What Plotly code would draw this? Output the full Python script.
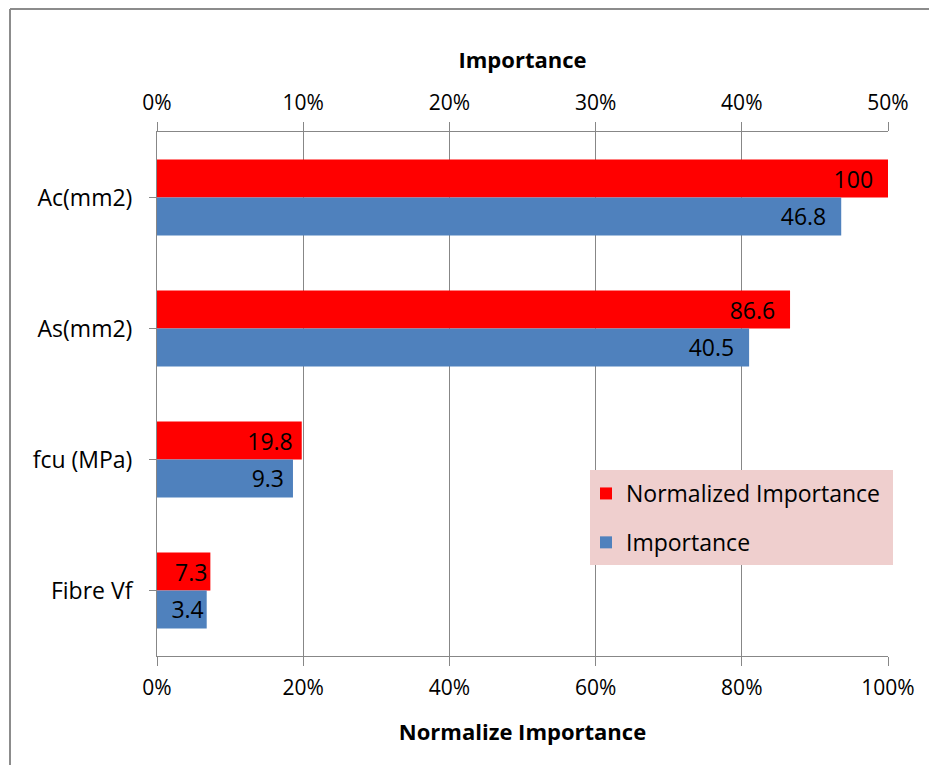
import plotly.graph_objects as go

categories = ["Ac(mm2)", "As(mm2)", "fcu (MPa)", "Fibre Vf"]
normalized_importance = [100, 86.6, 19.8, 7.3]
importance = [46.8, 40.5, 9.3, 3.4]
bottom_ticks = [0, 20, 40, 60, 80, 100]
bottom_labels = ["0%", "20%", "40%", "60%", "80%", "100%"]
top_ticks = [0, 10, 20, 30, 40, 50]
top_labels = ["0%", "10%", "20%", "30%", "40%", "50%"]

FONT = "Open Sans"
GRID = "#878787"

# page body has an 8px margin; figure coordinates are screen minus 8
W, H = 921, 757
L, T, R, B = 149, 124, 880, 648
PW, PH = R - L, B - T

def px(xs):
    return (xs - 8 - L) / PW

def py(ys):
    return (B - (ys - 8)) / PH

def label(v, frac):
    # trailing padding inside the bar end, smaller for short bars
    pad = "\u00a0\u00a0" if frac >= 0.3 else ("\u00a0" if frac >= 0.15 else "")
    return f"{v:g}{pad}"

fig = go.Figure()
fig.add_trace(go.Bar(
    name="Normalized Importance", y=categories, x=normalized_importance,
    orientation="h", xaxis="x", yaxis="y", legendgroup="a",
    marker=dict(color="#FF0000", line=dict(width=0)),
    offset=-0.29, width=0.29,
    text=[label(v, v / 100) for v in normalized_importance], texttemplate="%{text}",
    textposition="inside", insidetextanchor="end",
    textfont=dict(family=FONT, size=23, color="black"),
    hoverinfo="skip",
))
fig.add_trace(go.Bar(
    name="Importance", y=categories, x=importance,
    orientation="h", xaxis="x2", yaxis="y", legendgroup="b",
    marker=dict(color="#4F81BD", line=dict(width=0)),
    offset=0.0, width=0.29,
    text=[label(v, v / 50) for v in importance], texttemplate="%{text}",
    textposition="inside", insidetextanchor="end",
    textfont=dict(family=FONT, size=23, color="black"),
    hoverinfo="skip",
))

fig.update_layout(
    width=W, height=H,
    margin=dict(l=L, r=W - R, t=T, b=H - B),
    paper_bgcolor="white", plot_bgcolor="white",
    font=dict(family=FONT, size=21, color="black"),
    showlegend=True,
    legend=dict(
        x=px(586), y=py(472), xanchor="left", yanchor="top",
        bgcolor="rgba(0,0,0,0)", borderwidth=0,
        font=dict(family=FONT, size=23, color="black"),
        traceorder="grouped", tracegroupgap=16,
    ),
    xaxis=dict(
        range=[0, 100], tickvals=bottom_ticks, ticktext=bottom_labels,
        side="bottom", showgrid=True, gridcolor=GRID, gridwidth=1,
        showline=True, linecolor=GRID, linewidth=1,
        ticks="outside", ticklen=9, tickcolor=GRID, ticklabelstandoff=4,
        zeroline=False, tickfont=dict(size=21),
        title=dict(text="<b>Normalize Importance</b>", font=dict(family=FONT, size=22), standoff=24),
    ),
    xaxis2=dict(
        range=[0, 50], tickvals=top_ticks, ticktext=top_labels,
        side="top", overlaying="x", anchor="y",
        showgrid=False, showline=True, linecolor=GRID, linewidth=1,
        ticks="outside", ticklen=9, tickcolor=GRID, ticklabelstandoff=4,
        zeroline=False, tickfont=dict(size=21),
        title=dict(text="<b>Importance</b>", font=dict(family=FONT, size=22), standoff=12),
    ),
    yaxis=dict(
        type="category", autorange="reversed",
        showline=True, linecolor=GRID, linewidth=1,
        ticks="outside", ticklen=7, tickcolor=GRID, ticklabelstandoff=12,
        showgrid=False, zeroline=False, tickfont=dict(size=23),
    ),
    shapes=[
        dict(
            type="line", xref="paper", yref="paper",
            x0=px(10), x1=px(10), y0=py(773), y1=py(9),
            line=dict(color="#8C8C8C", width=2), layer="below",
        ),
        dict(
            type="line", xref="paper", yref="paper",
            x0=px(10), x1=px(937), y0=py(9), y1=py(9),
            line=dict(color="#8C8C8C", width=2), layer="below",
        ),
        dict(
            type="rect", xref="paper", yref="paper",
            x0=px(590), x1=px(893), y0=py(565), y1=py(470),
            line=dict(width=0), fillcolor="#EFCFCE", layer="above",
        ),
    ],
)

fig.write_html("out.html")
